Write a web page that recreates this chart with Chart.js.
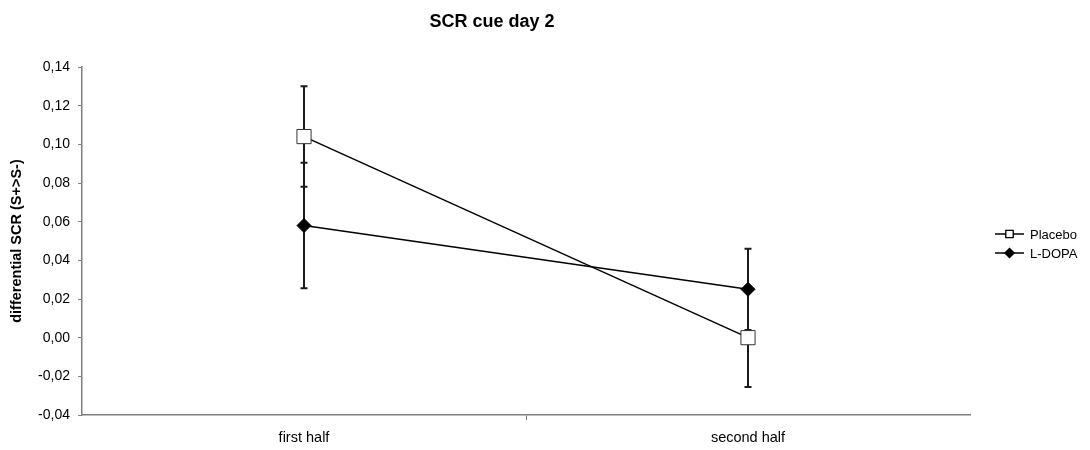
<!DOCTYPE html>
<html>
<head>
<meta charset="utf-8">
<script src="https://cdn.jsdelivr.net/npm/chart.js@4/dist/chart.umd.min.js"></script>
<style>
  html, body { margin: 0; padding: 0; background: #fff; }
  #wrap { width: 1090px; height: 450px; }
</style>
</head>
<body>
<div id="wrap"><canvas id="chart" width="1090" height="450"></canvas></div>
<script>
// values
const categories = ['first half', 'second half'];
const placebo = [0.104, 0.000];
const placeboErr = [0.026, 0.0255];
const ldopa = [0.058, 0.025];
const ldopaErr = [0.0325, 0.021];
const yTicks = [-0.04, -0.02, 0, 0.02, 0.04, 0.06, 0.08, 0.10, 0.12, 0.14];
const chartTitle = 'SCR cue day 2';
const yTitle = 'differential SCR (S+>S-)';

const FONT = '"Liberation Sans", Arial, sans-serif';
Chart.defaults.font.family = FONT;
Chart.defaults.color = '#000';

// error bars, drawn under the markers
const errorBars = {
    id: 'errorBars',
    beforeDatasetsDraw(chart){
        const ctx = chart.ctx;
        const y = chart.scales.y;
        ctx.save();
        ctx.strokeStyle = '#1a1a1a';
        ctx.lineWidth = 2;
        chart.data.datasets.forEach((ds, i) => {
            const meta = chart.getDatasetMeta(i);
            meta.data.forEach((pt, j) => {
                const v = ds.data[j], e = ds.errors[j];
                const top = y.getPixelForValue(v + e);
                const bot = y.getPixelForValue(v - e);
                ctx.beginPath();
                ctx.moveTo(pt.x, top); ctx.lineTo(pt.x, bot);
                ctx.moveTo(pt.x - 3.5, top); ctx.lineTo(pt.x + 3.5, top);
                ctx.moveTo(pt.x - 3.5, bot); ctx.lineTo(pt.x + 3.5, bot);
                ctx.stroke();
            });
        });
        ctx.restore();
    }
};

// title and legend placed like the original
const extras = {
    id: 'extras',
    afterDraw(chart){
        const ctx = chart.ctx;
        ctx.save();
        ctx.fillStyle = '#000';
        ctx.font = 'bold 18px ' + FONT;
        ctx.textAlign = 'center';
        ctx.textBaseline = 'middle';
        ctx.fillText(chartTitle, 492, 22);

        ctx.font = '13px ' + FONT;
        ctx.textAlign = 'left';
        chart.data.datasets.forEach((ds, i) => {
            const ly = 234 + i * 19;
            ctx.strokeStyle = '#000';
            ctx.lineWidth = 1.5;
            ctx.beginPath();
            ctx.moveTo(995, ly); ctx.lineTo(1024, ly);
            ctx.stroke();
            Chart.helpers.drawPoint(ctx, {
                pointStyle: ds.pointStyle,
                radius: ds.pointStyle === 'rect' ? 5 : 4.5,
                borderWidth: 1
            }, 1009.5, ly);
            ctx.fillStyle = ds.pointBackgroundColor;
            ctx.strokeStyle = '#000';
            ctx.lineWidth = 1;
            ctx.fill();
            ctx.stroke();
            ctx.fillStyle = '#000';
            ctx.fillText(ds.label, 1030, ly + 1);
        });
        ctx.restore();
    }
};

new Chart(document.getElementById('chart'), {
    type: 'line',
    data: {
        labels: categories,
        datasets: [
            {
                label: 'Placebo',
                data: placebo,
                errors: placeboErr,
                borderColor: '#000',
                borderWidth: 1.5,
                pointStyle: 'rect',
                pointRadius: 10,
                pointBackgroundColor: '#fff',
                pointBorderColor: '#333',
                pointBorderWidth: 1,
                tension: 0
            },
            {
                label: 'L-DOPA',
                data: ldopa,
                errors: ldopaErr,
                borderColor: '#000',
                borderWidth: 1.5,
                pointStyle: 'rectRot',
                pointRadius: 7,
                pointBackgroundColor: '#000',
                pointBorderColor: '#000',
                pointBorderWidth: 1,
                tension: 0
            }
        ]
    },
    options: {
        responsive: false,
        animation: false,
        layout: { padding: { top: 67, right: 120, bottom: 0, left: 0 } },
        plugins: {
            legend: { display: false },
            title: { display: false },
            tooltip: { enabled: false }
        },
        scales: {
            x: {
                offset: true,
                border: { display: true, color: '#7f7f7f', width: 1.5 },
                grid: {
                    offset: true,
                    drawOnChartArea: false,
                    drawTicks: true,
                    tickLength: 5,
                    color: c => c.index === 1 ? '#7f7f7f' : 'rgba(0,0,0,0)'
                },
                ticks: { padding: 9, font: { size: 14.5 }, color: '#000' },
                afterFit(scale){ scale.height = 35; }
            },
            y: {
                min: -0.04,
                max: 0.14,
                afterBuildTicks(scale){
                    scale.ticks = yTicks.map(v => ({ value: v }));
                },
                border: { display: true, color: '#7f7f7f', width: 1.5 },
                grid: {
                    drawOnChartArea: false,
                    drawTicks: true,
                    tickLength: 4,
                    color: '#7f7f7f'
                },
                ticks: {
                    padding: 8,
                    font: { size: 14 },
                    color: '#000',
                    callback: v => (Math.round(v * 100) / 100).toFixed(2).replace('.', ',')
                },
                title: {
                    display: true,
                    text: yTitle,
                    font: { size: 14.5, weight: 'bold' },
                    color: '#000',
                    padding: { top: 8, bottom: 0 }
                },
                afterFit(scale){ scale.width = 82; }
            }
        }
    },
    plugins: [errorBars, extras]
});
</script>
</body>
</html>
